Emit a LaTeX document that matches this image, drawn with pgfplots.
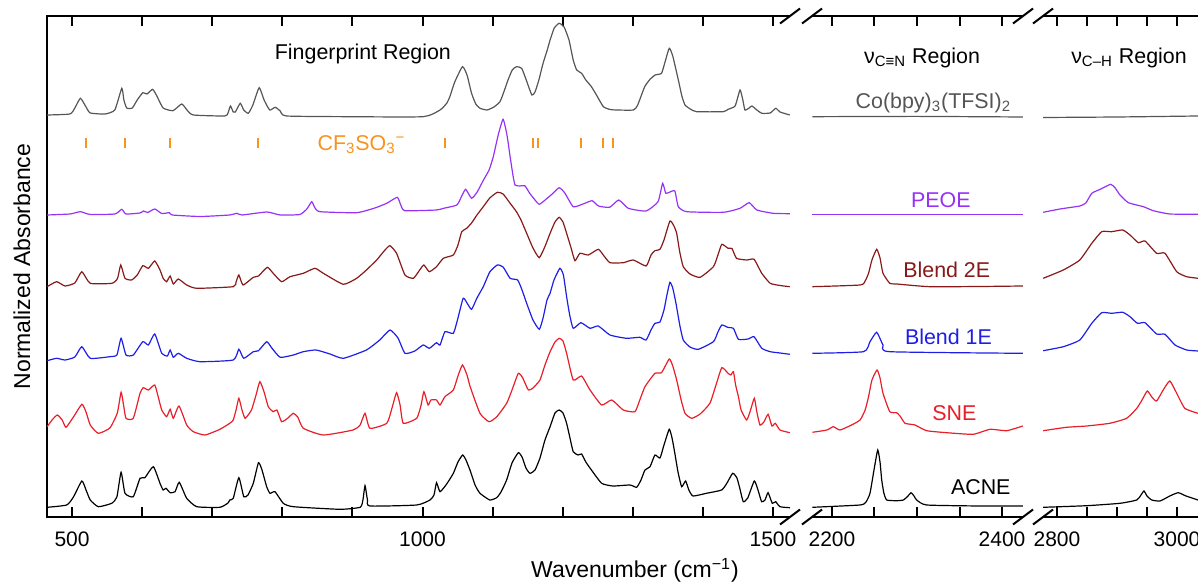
\documentclass[border=0pt]{standalone}
\usepackage{fontspec}
\setmainfont{Liberation Sans}
\usepackage{pgfplots}
\pgfplotsset{compat=1.18}
\definecolor{cogray}{RGB}{85,85,85}
\definecolor{orng}{RGB}{247,147,30}
\definecolor{peoe}{RGB}{150,50,245}
\definecolor{btwo}{RGB}{135,25,25}
\definecolor{bone}{RGB}{30,30,230}
\definecolor{sne}{RGB}{232,30,40}
\pgfplotsset{
  panel/.style={
    scale only axis, height=250.5pt, ymin=0, ymax=501, ytick=\empty,
    axis line style={draw=none}, clip=false, anchor=south west,
    tick align=inside, major tick length=5pt,
    every tick/.style={black, line width=1pt},
    xticklabel style={font=\fontsize{10.5}{12}\selectfont, yshift=-3.8pt},
    /pgf/number format/assume math mode=true,
    every axis plot/.append style={line width=0.6pt, smooth, tension=0.3},
  },
}
\newcommand{\lab}{\fontsize{10.7}{12.8}\selectfont}
\begin{document}
\begin{tikzpicture}
\useasboundingbox (0,0) rectangle (599pt,291.5pt);
% ---------------- Panel 1: fingerprint ----------------
\begin{axis}[panel, at={(23.5pt,33pt)}, width=371.5pt,
  xmin=464.3, xmax=1524.3,
  xtick={500,600,...,1500}, xticklabels={500,,,,,1000,,,,,1500}]
\draw[line width=1.2pt, line join=miter] (rel axis cs:1,1) -- (rel axis cs:0,1) -- (rel axis cs:0,0) -- (rel axis cs:1,0);
\draw[line width=1pt] (rel axis cs:1,0) ++(-5pt,-3.75pt) -- ++(10pt,7.5pt);
\draw[line width=1pt] (rel axis cs:1,1) ++(-5pt,-3.75pt) -- ++(10pt,7.5pt);
% Co(bpy)3(TFSI)2
\addplot[cogray] coordinates {(464.5,402)(497,403)(504,409)(512,418.7)(520,410)(526,404)(547,403)(561,407)(571,428.7)(574,417)(578,409)(586,409)(593,417)(601,424.3)(607,423)(615,427.7)(621,421)(630,409)(644,406.3)(656.5,413)(664,407)(673,402)(718,401)(722.5,404)(726,411)(730,405)(733,405)(740,413.7)(745,407)(751.5,403.7)(758,412)(767,429.3)(774,417)(782,407)(790,409.7)(797,406)(806,401)(897,400.3)(1001,400.3)(1025,407)(1034.5,413.7)(1039,420.3)(1046,435)(1057,450.3)(1063.5,442)(1070,423.7)(1076,413)(1082,408.7)(1092,407)(1102,410)(1110.5,415.3)(1116,425)(1122,437)(1128,447)(1134,450.3)(1141.5,448.7)(1148,437)(1156,422)(1160.5,425)(1166,437)(1172,453.7)(1178,467)(1182,477)(1188,489)(1195,493.7)(1202,490)(1209,477)(1215,457)(1220,447)(1227,443.7)(1233,437)(1241,430.3)(1249,421)(1258,410.3)(1267.5,407.5)(1277,407)(1301,407)(1307,412)(1317,430.3)(1325,438)(1332,442)(1341,443.7)(1346,455)(1352,468.7)(1357,461)(1365,437)(1370,421)(1374.5,412)(1382,408)(1391,405.3)(1429,405.3)(1436,407.7)(1446,411)(1453,427)(1457,417)(1460,407)(1466,409)(1470,411)(1477,407)(1484,403.7)(1496,404)(1504,408.7)(1510,405)(1524,402)};
% CF3SO3- marks
\addplot[orng, only marks, mark=|, mark size=2.5pt, mark options={line width=1pt}] coordinates {(520,374)(575,374)(640,374)(765,374)(1032,374)(1157,374)(1165,374)(1226,374)(1257,374)(1272,374)};
% PEOE
\addplot[peoe] coordinates {(464.5,302)(497,303)(512,305.3)(526,302.5)(561,303)(571,307.7)(577,303)(597,304)(602,306)(608,304.5)(618,308)(628,303.5)(639,304.3)(643,302)(683,300.5)(725,302)(735,303.7)(742.5,302)(778,305)(797,302)(825,302.5)(835,308)(842,315.3)(846.6,309)(854,305.3)(906,304.3)(932,309)(949,313.7)(964,319.7)(969,312)(975,306.3)(1020,307)(1030,308.7)(1049,312)(1056,321)(1061.6,327.7)(1070,318.7)(1078,325)(1087,337)(1095,347)(1101,360.3)(1108,382)(1115,397.7)(1120.5,382)(1125,360.3)(1129,342)(1132,332)(1139,331)(1146,331.3)(1153,323.7)(1160.5,317)(1166.6,312.7)(1175,317)(1185,323)(1195,329.3)(1203,324)(1215,310.3)(1229,313)(1242,316.3)(1251,311)(1267,309.7)(1280,317)(1293.6,308.7)(1319,306)(1336,315.3)(1342.6,333.7)(1347,323.7)(1353,325)(1360,326)(1365,310.3)(1377,305.3)(1429,304.7)(1453,308.7)(1466,314.3)(1477,307)(1500,303.7)(1524,303.3)};
% Blend 2E
\addplot[btwo] coordinates {(464.5,230.3)(478,235.3)(490,231)(504,234)(514,245.3)(526,233.7)(557,233.7)(565,238.7)(569.5,252)(575.6,238.7)(585,237)(593,242)(601,251.3)(609,248.7)(618,256)(625.5,247)(630,238.7)(635,235.3)(640,241)(644.5,233)(651.6,238)(663.6,232)(678,228.7)(730,230.3)(734,235)(738,242)(744,232)(758.6,239.7)(766,241)(778.6,249.7)(787,243.7)(799,235.3)(811,240.3)(830,243.7)(846.6,248.7)(858.5,243.7)(887,232.7)(906,238.7)(920,247)(934.6,257)(946.5,267)(953.6,271.3)(963,263.7)(975,242)(987,238.7)(996,247)(1002,252)(1009.7,245.3)(1020,250.3)(1029.7,258.7)(1044,262)(1050.6,272)(1056,285.3)(1063,288.7)(1070,294)(1077.7,302)(1086.7,310.3)(1096,319)(1106.7,324.7)(1115,323)(1125,313.7)(1134,305.3)(1140.5,297)(1148.6,283.7)(1157.6,269)(1166.6,259.3)(1175,271)(1182,283.7)(1189,295)(1195,299.7)(1200.4,295)(1205.6,283.7)(1212,269)(1217.5,256.3)(1224.6,263.7)(1236.5,262)(1250.8,267.7)(1259,261)(1267.5,254.3)(1286.5,254.3)(1300.7,257)(1319,251)(1326,262)(1331.6,266.3)(1338.8,267.7)(1344.5,277)(1353,296)(1358.7,291)(1362.6,283.7)(1367,265)(1372,250.3)(1381.6,243)(1396,239.7)(1415,250.3)(1421.5,262)(1427,272.7)(1436,268.7)(1441.5,268.5)(1448,258.7)(1462.5,257)(1473,257.7)(1484,243.7)(1496,233.7)(1510,231.5)(1524,230.3)};
% Blend 1E
\addplot[bone] coordinates {(464.5,156.3)(478,158.7)(490,157)(504,160)(514,170.3)(526,158.7)(554,160.3)(564,162)(570,178.7)(577,162)(587.4,162)(601,175.3)(609,172)(618,183)(628,163.7)(636,161)(640,167)(644.5,159.7)(651.6,163.7)(663.6,158.7)(682.6,155.3)(730,157)(738,167.7)(745,158.7)(758.6,165.3)(766,166.3)(777.7,175.3)(785,169)(797,159.7)(815.7,162)(830,165.3)(848,167)(868,163)(887,158.7)(920,167)(939,177)(953.6,187)(965,179)(975,163.7)(989,166)(1001,172)(1009.7,168.7)(1020,174.3)(1025,172)(1032,185.3)(1044,183.7)(1050.6,199)(1058,218.7)(1063.5,214)(1070,207.7)(1077.7,219)(1086.7,230.3)(1096,245)(1106.7,252)(1115,250)(1125,238.7)(1135.7,237)(1142,227)(1148.6,213.7)(1157.6,197)(1166.6,187.7)(1172,199)(1177.6,217)(1182,223.7)(1187.6,237)(1196,248.7)(1201,242)(1205.6,220.3)(1210,202)(1215,188.7)(1226,194.3)(1239,188.7)(1250.8,191)(1267.5,182)(1291,178.7)(1310,179.7)(1319,177)(1326,187)(1331.6,193.7)(1338.8,195)(1344.5,207)(1348.7,222)(1353,234.7)(1357,229)(1361.6,213.7)(1367,192)(1372,177)(1381.6,170)(1393.5,167.7)(1415,175.3)(1421.5,185)(1427,192)(1436,189.5)(1443.6,188.7)(1450.7,177.7)(1464.5,178)(1473,180.3)(1484,168.7)(1496,165.3)(1510,164)(1524,162.7)};
% SNE
\addplot[sne] coordinates {(464.5,90.3)(471.5,97)(479,102)(486,97)(491.4,89.7)(502,100)(514,112.7)(520,105)(526,92)(537.5,83.7)(554,89)(564.6,104)(570,124.7)(573.5,112)(577,98.7)(587.4,98.7)(597,123.7)(601.7,129.3)(609,127)(618,132)(623.4,119)(628,107)(635,100.3)(640,107.7)(644.5,98.7)(652.6,111)(663.6,92)(673,85.3)(689.7,82)(711,87.7)(725,93.7)(730,97)(734,107)(738,118.7)(742.5,107)(747,98.7)(756,107)(762.5,122)(768,135.3)(774,125)(780,110.3)(787,105.3)(792.4,107)(799,95.3)(808,99)(815.7,103.7)(822,100)(830,88.7)(858.5,82)(901,87)(911,92)(918,103.7)(925,88.7)(949,93.7)(956.5,109)(963,124.3)(968,112)(972.6,93.7)(991.7,98.7)(998,112)(1002,125.3)(1008,112)(1012,117)(1020,117)(1025,112)(1032,120.3)(1044,127)(1050.6,141)(1057,152)(1063.5,142)(1068,130.3)(1082,103.7)(1095,95.3)(1106,100.3)(1120,113.7)(1127.7,127)(1136.7,143.7)(1143,139)(1151,127)(1157.6,129)(1167.6,137)(1174.7,152)(1182,165.3)(1189,175)(1195,178.7)(1200.4,176)(1205.6,163.7)(1215,137)(1227,141)(1239,127)(1255.6,112)(1270,117)(1286.5,107)(1303,105.3)(1310,117)(1317.4,130.3)(1331.6,143.7)(1341,144.3)(1352,158)(1357,151)(1362.6,137)(1369,117)(1374.5,103.7)(1384,98.7)(1396,103)(1410,113.7)(1418.7,132)(1427,149.3)(1436,143.7)(1440,142)(1443.6,145.3)(1446.7,132)(1450.7,120.3)(1454.5,107)(1462.5,97)(1468,107)(1473.4,118.7)(1477,105)(1481.4,92)(1487,95)(1493,102.7)(1498.5,91)(1503.3,93.7)(1510,87)(1524,84.3)};
% ACNE
\addplot[black] coordinates {(464.5,9.7)(492.4,12)(502,20)(514,36)(520,27)(526,17)(537.5,10.3)(556.6,13.7)(564,20)(570,44.7)(575.6,23.7)(587.4,20.3)(597,38.7)(604,39.3)(616,50.3)(625.5,33.7)(630,27)(634,28.7)(640,24.3)(647,25.3)(653,34.7)(663.6,18.7)(678,10.3)(711,9.7)(722.5,14)(725,17)(730,18.7)(738,39.3)(745,20.3)(751,22)(758.6,33.7)(766,54.3)(771,47)(777.7,30.3)(782.4,23.7)(789.6,25.3)(801.4,13.7)(815.7,10.3)(882,7.7)(911,9.7)(915,17)(918,31.3)(921.5,17)(925,11)(991.7,12)(1010.7,17)(1016.4,22)(1020,34.3)(1025,25.3)(1034.5,33)(1044,43.7)(1050.6,55)(1057.3,62)(1062,57)(1067.7,47)(1075,32)(1082,23.7)(1096,17)(1105.8,19.3)(1112,25)(1120,37)(1127.7,54)(1136.7,64.3)(1142,60)(1147.6,49)(1153.3,43.7)(1160.5,47)(1167.6,59)(1174.7,77)(1182,90.3)(1189,104)(1195,107)(1200.4,104)(1205.6,93.7)(1210.4,79)(1215,65.3)(1222,62)(1227,63)(1233,55)(1241,47)(1255.6,33.7)(1271.7,31)(1296,32)(1305.5,29.7)(1311.7,37)(1317.4,47)(1324.6,50.3)(1331.6,62)(1338.8,59)(1344.5,72)(1352,87.7)(1356,79)(1360,63.7)(1364.5,45)(1369.7,30.3)(1375.4,36)(1380,27)(1386,21)(1405,23.7)(1426.8,27)(1434.4,34)(1442.5,43.7)(1448.6,39)(1453,27.7)(1457.6,15.3)(1464,19)(1473.3,36)(1478.6,27)(1483.8,15.3)(1488.6,17)(1493,24.3)(1499,13.7)(1503.8,15.3)(1510,10.3)(1524,9.3)};
\node[anchor=base, font=\lab] at (axis cs:915,457) {Fingerprint Region};
\node[anchor=base, font=\lab, text=orng] at (axis cs:913,366.3) {CF\textsubscript{3}SO\textsubscript{3}\textsuperscript{−}};
\end{axis}
% ---------------- Panel 2: C≡N ----------------
\begin{axis}[panel, at={(406pt,33pt)}, width=105.5pt,
  xmin=2176.5, xmax=2424.7,
  xtick={2200,2250,...,2400}, xticklabels={2200,,,,2400}]
\draw[line width=1.2pt] (rel axis cs:0,1) -- (rel axis cs:1,1);
\draw[line width=1.2pt] (rel axis cs:0,0) -- (rel axis cs:1,0);
\draw[line width=1pt] (rel axis cs:0,0) ++(-5pt,-3.75pt) -- ++(10pt,7.5pt);
\draw[line width=1pt] (rel axis cs:0,1) ++(-5pt,-3.75pt) -- ++(10pt,7.5pt);
\draw[line width=1pt] (rel axis cs:1,0) ++(-5pt,-3.75pt) -- ++(10pt,7.5pt);
\draw[line width=1pt] (rel axis cs:1,1) ++(-5pt,-3.75pt) -- ++(10pt,7.5pt);
\addplot[cogray] coordinates {(2177,400.3)(2300,400.6)(2424.5,400)};
\addplot[peoe] coordinates {(2177,302.7)(2300,302.7)(2424.5,302.7)};
\addplot[btwo] coordinates {(2177,230.3)(2233,232)(2239,236)(2243,243.7)(2247,257)(2252.6,267.7)(2256.5,259)(2260,243.7)(2268,233.7)(2276,233)(2315,230.3)(2374,230.5)(2424.5,231)};
\addplot[bone] coordinates {(2177,163.7)(2237,165.3)(2244.7,175.3)(2252.6,184.7)(2260,172)(2268,165.3)(2424.5,163.7)};
\addplot[sne] coordinates {(2177,84.7)(2194,87)(2201.5,90.3)(2209.4,87)(2223,92)(2233,97)(2239,107)(2243,120.3)(2247,137)(2253,147)(2256.5,139)(2260,123.7)(2268,105.3)(2276,104.3)(2280,101)(2286,93.7)(2297.6,92)(2311.4,86.3)(2335,84.3)(2366,82.7)(2386,87.7)(2405.5,86.3)(2424.5,91)};
\addplot[black] coordinates {(2177,9.7)(2233,12)(2240,15)(2244.7,23.7)(2249.4,47)(2253.8,67)(2256.5,55)(2258.5,37)(2261,24)(2264.4,17)(2276,16.3)(2284,17)(2289.4,21)(2293,24.3)(2296.5,21)(2299.6,17)(2311.4,12)(2374,11)(2424.5,11)};
\node[anchor=base, font=\lab] at (axis cs:2306,453.7) {ν\textsubscript{C≡N} Region};
\node[anchor=base east, font=\lab, text=cogray] at (axis cs:2419,408.7) {Co(bpy)\textsubscript{3}(TFSI)\textsubscript{2}};
\node[anchor=base, font=\lab, text=peoe] at (axis cs:2328,309.7) {PEOE};
\node[anchor=base, font=\lab, text=btwo] at (axis cs:2335,239.7) {Blend 2E};
\node[anchor=base, font=\lab, text=bone] at (axis cs:2337,172) {Blend 1E};
\node[anchor=base, font=\lab, text=sne] at (axis cs:2344,96) {SNE};
\node[anchor=base, font=\lab] at (axis cs:2375,22) {ACNE};
\end{axis}
% ---------------- Panel 3: C-H ----------------
\begin{axis}[panel, at={(521.5pt,33pt)}, width=77.5pt,
  xmin=2776.7, xmax=3035,
  xtick={2800,2850,...,3000}, xticklabels={2800,,,,3000}]
\draw[line width=1.2pt] (rel axis cs:0,1) -- (rel axis cs:1,1);
\draw[line width=1.2pt] (rel axis cs:0,0) -- (rel axis cs:1,0);
\draw[line width=1pt] (rel axis cs:0,0) ++(-5pt,-3.75pt) -- ++(10pt,7.5pt);
\draw[line width=1pt] (rel axis cs:0,1) ++(-5pt,-3.75pt) -- ++(10pt,7.5pt);
\addplot[cogray] coordinates {(2777,399.5)(2900,400)(3035,401)};
\addplot[peoe] coordinates {(2777,304.7)(2805,308)(2838,311)(2848,314)(2858,323.7)(2872,327.7)(2889.5,332.7)(2897,329)(2905,322)(2919,314.3)(2944,310.3)(2960.5,306.3)(2988,303)(3035,302.7)};
\addplot[btwo] coordinates {(2777,238.7)(2810.5,247)(2838,257)(2858,273.7)(2874.5,285.3)(2891,285.3)(2909.5,287)(2921.7,282)(2935.5,274.3)(2946.7,276)(2966,263.7)(2980,263.7)(2999.5,245.3)(3016,240.3)(3035,238.7)};
\addplot[bone] coordinates {(2777,166.3)(2810.5,170.3)(2838,177)(2858,193.7)(2874.5,204.3)(2891,203.7)(2909.5,204.7)(2921.7,200.3)(2934,193.7)(2946.7,194.3)(2966,183)(2980,182.7)(2996.7,172)(3016,167)(3035,166)};
\addplot[sne] coordinates {(2777,86.3)(2816,89.7)(2849.5,91)(2888,93.7)(2916,98.7)(2933,108.7)(2941.7,117)(2950.5,126)(2958,120)(2966,116)(2977,127)(2988,136)(2999.5,123.7)(3013,108.7)(3035,103.7)};
\addplot[black] coordinates {(2777,9.7)(2849.5,11.3)(2905,13.7)(2933,17)(2940,22)(2945,26)(2950,21)(2958,17)(2971.7,16)(2988,21)(3002,24.3)(3015,21)(3035,17)};
\node[anchor=base, font=\lab] at (axis cs:2920,453.7) {ν\textsubscript{C–H} Region};
\end{axis}
% axis titles
\node[rotate=90, font=\fontsize{11.5}{13}\selectfont] at (11pt,158.25pt) {Normalized Absorbance};
\node[anchor=base, font=\fontsize{11.5}{13}\selectfont] at (317.5pt,2.5pt) {Wavenumber (cm\textsuperscript{−1})};
\end{tikzpicture}
\end{document}
